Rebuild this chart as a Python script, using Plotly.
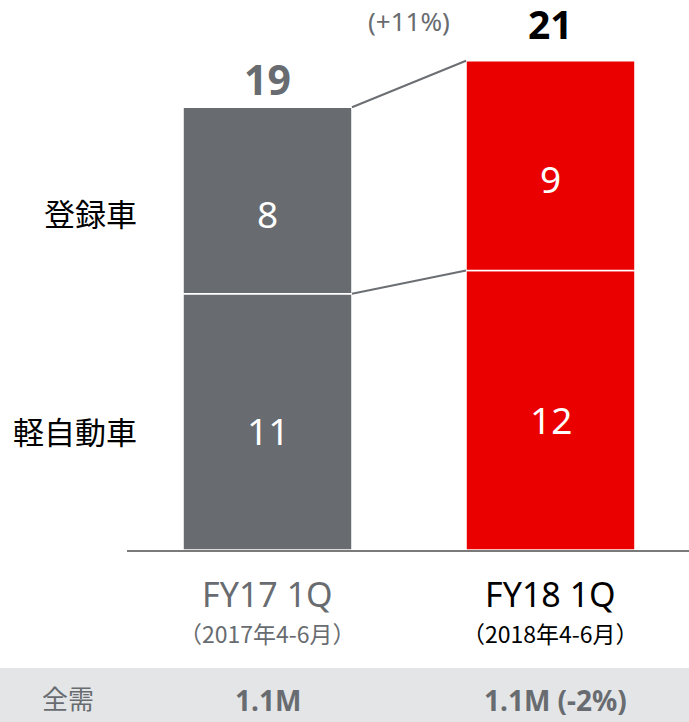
import plotly.graph_objects as go

# ---- data ----
categories = ["FY17 1Q", "FY18 1Q"]
periods = ["（2017年4-6月）", "（2018年4-6月）"]
kei = [11, 12]          # 軽自動車
registered = [8, 9]     # 登録車
totals = [19, 21]
growth_label = "(+11%)"
segment_names = ["軽自動車", "登録車"]
demand_label = "全需"
demand_values = ["1.1M", "1.1M (-2%)"]

GRAY = "#686c70"
RED = "#eb0000"
bar_colors = [GRAY, RED]
label_colors = ["#686c70", "#000000"]
total_colors = ["#686c70", "#000000"]

FONT = "Noto Sans, Noto Sans CJK JP, sans-serif"
CJK = "Noto Sans CJK JP, Noto Sans, sans-serif"

xs = list(range(len(categories)))
W = 0.597

fig = go.Figure()
fig.add_trace(go.Bar(x=xs, y=kei, width=W, marker=dict(color=bar_colors, line=dict(color="white", width=1.5)),
                     hoverinfo="skip", name=segment_names[0]))
fig.add_trace(go.Bar(x=xs, y=registered, base=kei, width=W,
                     marker=dict(color=bar_colors, line=dict(color="white", width=1.5)),
                     hoverinfo="skip", name=segment_names[1]))

ann = []
# values inside bars
for i in xs:
    ann.append(dict(x=i, y=kei[i] / 2, text=str(kei[i]), showarrow=False, yshift=-9,
                    font=dict(size=37, color="white", family=FONT)))
    ann.append(dict(x=i, y=kei[i] + registered[i] / 2, text=str(registered[i]), showarrow=False, yshift=-13,
                    font=dict(size=37, color="white", family=FONT)))
# totals
ann.append(dict(x=0, y=totals[0], text="<b>%d</b>" % totals[0], showarrow=False, yanchor="bottom", yshift=-2,
                font=dict(size=41, color=total_colors[0], family=FONT)))
ann.append(dict(x=1, y=totals[1], text="<b>%d</b>" % totals[1], showarrow=False, yanchor="bottom", yshift=9,
                font=dict(size=39, color=total_colors[1], family=FONT)))
ann.append(dict(x=0.5, y=totals[1], text=growth_label, showarrow=False, yanchor="middle", yshift=40,
                font=dict(size=26, color="#686c70", family=FONT)))
# segment labels on the left
ann.append(dict(x=-W / 2, xanchor="right", xshift=-44, y=kei[0] + registered[0] / 2, yshift=-12,
                text=segment_names[1], showarrow=False, font=dict(size=31, color="black", family=CJK)))
ann.append(dict(x=-W / 2, xanchor="right", xshift=-44, y=kei[0] / 2, yshift=-9,
                text=segment_names[0], showarrow=False, font=dict(size=31, color="black", family=CJK)))
# category labels
for i in xs:
    ann.append(dict(x=i, y=0, yref="y", text=categories[i], showarrow=False, yanchor="middle", yshift=-44,
                    font=dict(size=34, color=label_colors[i], family=FONT)))
    ann.append(dict(x=i, y=0, yref="y", text=periods[i], showarrow=False, yanchor="middle", yshift=-83,
                    font=dict(size=23, color=label_colors[i], family=CJK)))
# demand band
ann.append(dict(x=-0.105, xref="paper", xanchor="center", y=-0.268, yref="paper", yanchor="middle",
                text=demand_label, showarrow=False, font=dict(size=26, color="#686c70", family=CJK)))
for i in xs:
    ann.append(dict(x=i + (0.017 if i == 1 else 0), xanchor="center", y=-0.272, yref="paper", yanchor="middle",
                    text="<b>%s</b>" % demand_values[i],
                    showarrow=False, font=dict(size=28, color="#686c70", family=FONT)))

shapes = [
    dict(type="rect", xref="paper", yref="paper", x0=-0.226, x1=1.0, y0=-0.3127, y1=-0.2145,
         fillcolor="#e4e5e7", line=dict(width=0), layer="below"),
    dict(type="line", x0=W / 2, x1=1 - W / 2, y0=totals[0], y1=totals[1], line=dict(color="#6b6f73", width=2)),
    dict(type="line", x0=W / 2, x1=1 - W / 2, y0=kei[0], y1=kei[1], line=dict(color="#6b6f73", width=2)),
]

fig.update_layout(
    width=689, height=722,
    margin=dict(l=127, r=0, t=0, b=172, pad=0),
    paper_bgcolor="white", plot_bgcolor="white",
    barmode="overlay", showlegend=False,
    annotations=ann, shapes=shapes,
    xaxis=dict(range=[-0.4965, 1.4894], showline=True, linecolor="#7a7a7a", linewidth=2,
               showticklabels=False, ticks="", showgrid=False, zeroline=False, fixedrange=True),
    yaxis=dict(range=[0, 550 / 23.3], visible=False, showgrid=False, zeroline=False, fixedrange=True),
)

fig.write_html("out.html", config={"displayModeBar": False},
               post_script="document.body.style.margin='0';document.body.style.overflow='hidden';")
